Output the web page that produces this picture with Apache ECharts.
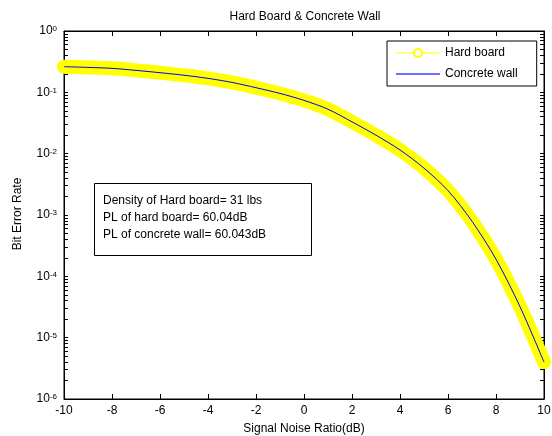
<!DOCTYPE html>
<html><head><meta charset="utf-8">
<script src="https://cdn.jsdelivr.net/npm/echarts@6/dist/echarts.min.js"></script>
<style>html,body{margin:0;padding:0;background:#fff}#c{width:552px;height:436px;background:#fff}</style>
</head><body><div id="c"></div>
<script>
// ---- data ----
const snr = [-10,-9,-8,-7,-6,-5,-4,-3,-2,-1,0,1,2,3,4,5,6,7,8,9,10];
const hardBoard = [0.262,0.255,0.246,0.228,0.209,0.19,0.169,0.145,0.119,0.096,0.074,0.053,0.033,0.020,0.0115,0.0058,0.0025,0.00079,0.00019,0.000032,0.000004];
const concreteWall = [0.262,0.255,0.246,0.228,0.209,0.19,0.169,0.145,0.119,0.096,0.074,0.053,0.033,0.020,0.0115,0.0058,0.0025,0.00079,0.00019,0.000032,0.000004];
const xTicks = [-10,-8,-6,-4,-2,0,2,4,6,8,10];
const yTickExponents = [-6,-5,-4,-3,-2,-1,0];
const seriesNames = ['Hard board','Concrete wall'];
const titleText = 'Hard Board & Concrete Wall';
const xName = 'Signal Noise Ratio(dB)';
const yName = 'Bit Error Rate';
const noteLines = ['Density of Hard board= 31 lbs','PL of hard board= 60.04dB','PL of concrete wall= 60.043dB'];

const FONT = 'Liberation Sans, Arial, Helvetica, sans-serif';
const majorY = yTickExponents.map(e => Math.pow(10, e));
const allY = majorY.slice();
yTickExponents.slice(0, -1).forEach(e => { for (let k = 2; k <= 9; k++) allY.push(k * Math.pow(10, e)); });
allY.sort((a, b) => a - b);

const chart = echarts.init(document.getElementById('c'));
const lineOn = () => ({show: true, onZero: false, lineStyle: {color: '#000', width: 1}});
const baseY = () => ({type: 'log', logBase: 10, min: majorY[0], max: majorY[majorY.length - 1], interval: 1, splitLine: {show: false}});
const baseX = () => ({type: 'value', min: xTicks[0], max: xTicks[xTicks.length - 1], interval: xTicks[1] - xTicks[0], splitLine: {show: false}});

chart.setOption({
  animation: false,
  grid: {left: 64, right: 8, top: 31, bottom: 37, outerBoundsMode: 'none', show: true, borderColor: '#000', borderWidth: 1, backgroundColor: 'rgba(0,0,0,0)'},
  xAxis: [
    Object.assign(baseX(), {
      position: 'bottom',
      axisLine: lineOn(),
      axisTick: {show: true, inside: true, length: 5},
      axisLabel: {show: true, fontSize: 12, color: '#000', fontFamily: FONT, margin: 6}
    }),
    Object.assign(baseX(), {
      position: 'top',
      axisLine: lineOn(),
      axisTick: {show: true, inside: true, length: 5},
      axisLabel: {show: false}
    })
  ],
  yAxis: [
    Object.assign(baseY(), {
      position: 'left',
      axisLine: lineOn(),
      axisTick: {show: true, inside: true, length: 4, customValues: allY},
      axisLabel: {
        show: true, margin: 7,
        formatter: v => '{b|10}{s|' + Math.round(Math.log10(v)) + '}',
        rich: {
          b: {fontSize: 12, lineHeight: 12, color: '#000', fontFamily: FONT, verticalAlign: 'bottom'},
          s: {fontSize: 8, lineHeight: 8, color: '#000', fontFamily: FONT, padding: [0, 0, 10, 0], verticalAlign: 'top'}
        }
      }
    }),
    Object.assign(baseY(), {
      position: 'right',
      axisLine: lineOn(),
      axisTick: {show: true, inside: true, length: 4, customValues: allY},
      axisLabel: {show: false}
    })
  ],
  legend: {
    orient: 'vertical', left: 387, top: 41,
    padding: [6, 19, 6, 8], itemGap: 9, itemWidth: 44, itemHeight: 10,
    backgroundColor: '#fff', borderColor: '#000', borderWidth: 1, borderRadius: 0,
    textStyle: {fontSize: 12, color: '#000', fontFamily: FONT},
    data: [
      {name: seriesNames[0], lineStyle: {width: 1, color: '#ffff00'}, itemStyle: {color: '#ffff00'}},
      {name: seriesNames[1], lineStyle: {width: 2, color: '#6f6fff'}, itemStyle: {color: 'rgba(0,0,0,0)', borderWidth: 0, opacity: 0}}
    ]
  },
  graphic: [
    {type: 'text', x: 305, y: 17, style: {text: titleText, font: '12px ' + FONT, fill: '#000', textAlign: 'center', textVerticalAlign: 'middle'}},
    {type: 'text', x: 304, y: 429, style: {text: xName, font: '12px ' + FONT, fill: '#000', textAlign: 'center', textVerticalAlign: 'middle'}},
    {type: 'text', x: 18, y: 214, rotation: Math.PI / 2, style: {text: yName, font: '12px ' + FONT, fill: '#000', textAlign: 'center', textVerticalAlign: 'middle'}},
    {type: 'rect', shape: {x: 94.5, y: 183.5, width: 217, height: 72}, style: {fill: '#fff', stroke: '#000', lineWidth: 1}, z: 100},
    {type: 'text', x: 103, y: 201, style: {text: noteLines[0], font: '12px ' + FONT, fill: '#000', textVerticalAlign: 'middle'}, z: 101},
    {type: 'text', x: 103, y: 218, style: {text: noteLines[1], font: '12px ' + FONT, fill: '#000', textVerticalAlign: 'middle'}, z: 101},
    {type: 'text', x: 103, y: 235, style: {text: noteLines[2], font: '12px ' + FONT, fill: '#000', textVerticalAlign: 'middle'}, z: 101}
  ],
  series: [
    {
      name: seriesNames[0], type: 'line', xAxisIndex: 0, yAxisIndex: 0,
      data: snr.map((x, i) => [x, hardBoard[i]]),
      smooth: 0.3, clip: false,
      symbol: 'emptyCircle', symbolSize: 9, showSymbol: false,
      itemStyle: {color: '#ffff00'},
      lineStyle: {color: '#ffff00', width: 14, cap: 'round', join: 'round'}
    },
    {
      name: seriesNames[1], type: 'line', xAxisIndex: 0, yAxisIndex: 0,
      data: snr.map((x, i) => [x, concreteWall[i]]),
      smooth: 0.3, clip: false,
      symbol: 'none', showSymbol: false,
      itemStyle: {color: '#0000ff'},
      lineStyle: {color: '#0000ff', width: 1}
    }
  ]
});
</script></body></html>
